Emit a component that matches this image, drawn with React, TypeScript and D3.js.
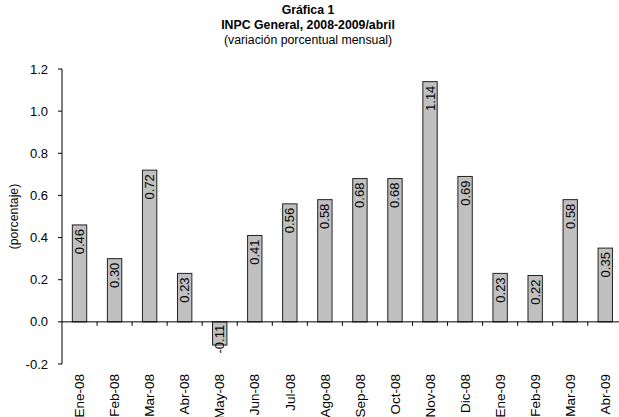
import React from "react";
import * as d3 from "d3";

const categories = ["Ene-08","Feb-08","Mar-08","Abr-08","May-08","Jun-08","Jul-08","Ago-08","Sep-08","Oct-08","Nov-08","Dic-08","Ene-09","Feb-09","Mar-09","Abr-09"];
const values = [0.46,0.30,0.72,0.23,-0.11,0.41,0.56,0.58,0.68,0.68,1.14,0.69,0.23,0.22,0.58,0.35];
const yTicks = [-0.2,0.0,0.2,0.4,0.6,0.8,1.0,1.2];
const titleLines = ["Gráfica 1","INPC General, 2008-2009/abril","(variación porcentual mensual)"];

export default function App() {
  const W = 619, H = 417;
  const left = 62, top = 69, bottom = 364;
  const x = d3.scaleBand<string>().domain(categories).range([left, left + 16 * 35.05]).paddingInner(0.59).paddingOuter(0.295);
  const y = d3.scaleLinear().domain([-0.2, 1.2]).range([bottom, top]);
  const font = "'Liberation Sans', Arial, sans-serif";
  const step = x.step();
  return (
    <svg width={W} height={H} style={{position:"absolute",left:0,top:0}} fontFamily={font}>
      <rect width={W} height={H} fill="#fff" />
      <text x={308} y={14} textAnchor="middle" fontSize={12.3} fontWeight="bold">{titleLines[0]}</text>
      <text x={308} y={29} textAnchor="middle" fontSize={12.3} fontWeight="bold">{titleLines[1]}</text>
      <text x={308} y={44} textAnchor="middle" fontSize={12.3}>{titleLines[2]}</text>
      <text transform={`translate(18,${(top+bottom)/2}) rotate(-90)`} textAnchor="middle" fontSize={12.3}>(porcentaje)</text>
      {categories.map((c, i) => {
        const v = values[i];
        const bx = x(c)!;
        const y0 = y(0), y1 = y(v);
        const cx = bx + x.bandwidth() / 2;
        const labelY = v >= 0 ? y1 + 4 : y0 + 3;
        return (
          <g key={c}>
            <rect x={bx} y={Math.min(y0, y1)} width={x.bandwidth()} height={Math.abs(y1 - y0)} fill="#C0C0C0" stroke="#222" strokeWidth={1} />
            <text transform={`translate(${cx + 4.5},${labelY}) rotate(-90)`} textAnchor="end" fontSize={13}>{v.toFixed(2)}</text>
            <text transform={`translate(${cx + 4.7},${374}) rotate(-90)`} textAnchor="end" fontSize={13.5}>{c}</text>
          </g>
        );
      })}
      <line x1={left} x2={left} y1={top} y2={bottom} stroke="#000" />
      {yTicks.map(t => (
        <g key={t}>
          <line x1={left - 4} x2={left} y1={y(t)} y2={y(t)} stroke="#000" />
          <text x={left - 14} y={y(t) + 4.5} textAnchor="end" fontSize={13}>{t.toFixed(1)}</text>
        </g>
      ))}
      <line x1={left} x2={W} y1={y(0)} y2={y(0)} stroke="#000" />
      {categories.map((c, i) => (
        <line key={"t" + c} x1={left + (i + 1) * step} x2={left + (i + 1) * step} y1={y(0)} y2={y(0) + 4} stroke="#000" />
      ))}
    </svg>
  );
}
